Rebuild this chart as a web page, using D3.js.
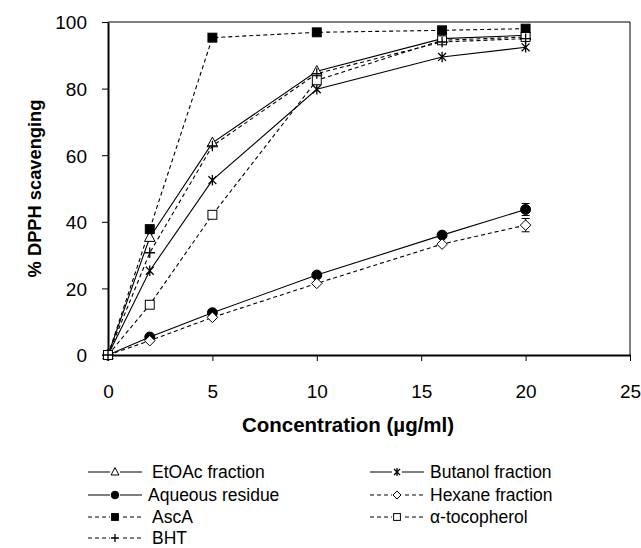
<!DOCTYPE html>
<html>
<head>
<meta charset="utf-8">
<script src="https://cdn.jsdelivr.net/npm/d3@7"></script>
<style>
  body { margin: 0; background: #fff; }
  svg { font-family: "Liberation Sans", Arial, sans-serif; }
</style>
</head>
<body>
<div id="chart"></div>
<script>
// concentrations (µg/ml)
const conc = [0, 2, 5, 10, 16, 20];

// % DPPH scavenging per sample
const etoac    = [0, 35.3, 63.7, 85.2, 95, 96];
const butanol  = [0, 25.3, 52.5, 79.8, 89.5, 92.4];
const aqueous  = [0, 5.4, 12.7, 24, 36, 43.7];
const hexane   = [0, 4.3, 11.3, 21.5, 33.3, 39];
const asca     = [0, 37.8, 95.3, 96.9, 97.5, 98];
const tocoph   = [0, 15.1, 42.1, 82.5, 94.5, 95.5];
const bht      = [0, 30.7, 62.8, 84.5, 94, 95];

// error bars (only the visible ones)
const aqueousErr = [0, 0, 0, 0, 0, 1.8];
const hexaneErr  = [0, 0, 0, 0, 0, 2];

const xTicks = [0, 5, 10, 15, 20, 25];
const yTicks = [0, 20, 40, 60, 80, 100];

const series = [
  {name: "EtOAc fraction",  values: etoac,   sym: "triangle", fill: "#fff", dash: null},
  {name: "Butanol fraction",values: butanol, sym: "asterisk", fill: "none", dash: null},
  {name: "Aqueous residue", values: aqueous, sym: "circle",   fill: "#000", dash: null, err: aqueousErr},
  {name: "Hexane fraction", values: hexane,  sym: "diamond",  fill: "#fff", dash: "4,3", err: hexaneErr},
  {name: "AscA",            values: asca,    sym: "square",   fill: "#000", dash: "4,3"},
  {name: "\u03b1-tocopherol", values: tocoph, sym: "square",  fill: "#fff", dash: "4,3"},
  {name: "BHT",             values: bht,     sym: "plus",     fill: "none", dash: "4,3"}
];

const width = 641, height = 548;
const margin = {top: 22, right: 11, bottom: 193, left: 108};

const svg = d3.select("#chart").append("svg")
  .attr("width", width)
  .attr("height", height);

const x = d3.scaleLinear().domain([0, 25]).range([margin.left, width - margin.right]);
const y = d3.scaleLinear().domain([0, 100]).range([height - margin.bottom, margin.top]);

// frame (top and right)
svg.append("path")
  .attr("d", `M${x(0)},${y(100)}H${x(25)}V${y(0)}`)
  .attr("fill", "none").attr("stroke", "#000").attr("stroke-width", 1);

// axes
const xAxis = svg.append("g")
  .attr("transform", `translate(0,${y(0)})`)
  .call(d3.axisBottom(x).tickValues(xTicks).tickSize(6).tickSizeOuter(0));
const yAxis = svg.append("g")
  .attr("transform", `translate(${x(0)},0)`)
  .call(d3.axisLeft(y).tickValues(yTicks).tickSize(6).tickSizeOuter(0));

[xAxis, yAxis].forEach(a => {
  a.attr("font-size", null).attr("font-family", null);
  a.select(".domain").attr("stroke-width", 2);
  a.selectAll(".tick line").attr("stroke-width", 1);
  a.selectAll("text").style("font-size", "19px").attr("fill", "#000");
});
xAxis.selectAll("text").attr("y", 43).attr("dy", 0);
yAxis.selectAll("text").attr("dy", "0.36em").attr("x", -21);

// axis titles
svg.append("text")
  .attr("x", 348).attr("y", 432)
  .attr("text-anchor", "middle")
  .style("font-size", "20.5px").attr("font-weight", "bold")
  .text("Concentration  (\u00b5g/ml)");

svg.append("text")
  .attr("transform", `translate(41,${(y(0) + y(100)) / 2}) rotate(-90)`)
  .attr("text-anchor", "middle")
  .style("font-size", "18.3px").attr("font-weight", "bold")
  .text("% DPPH scavenging");

// marker drawing
function marker(g, s, size) {
  const r = size / 2;
  if (s.sym === "circle") {
    g.append("circle").attr("r", r * 0.95).attr("fill", s.fill).attr("stroke", "#000");
  } else if (s.sym === "square") {
    g.append("rect").attr("x", -r * 0.85).attr("y", -r * 0.85)
      .attr("width", r * 1.7).attr("height", r * 1.7)
      .attr("fill", s.fill).attr("stroke", "#000");
  } else if (s.sym === "triangle") {
    g.append("path").attr("d", `M0,${-r * 1.1}L${r},${r * 0.75}L${-r},${r * 0.75}Z`)
      .attr("fill", s.fill).attr("stroke", "#000");
  } else if (s.sym === "diamond") {
    g.append("path").attr("d", `M0,${-r}L${r},0L0,${r}L${-r},0Z`)
      .attr("fill", s.fill).attr("stroke", "#000");
  } else if (s.sym === "plus") {
    g.append("path").attr("d", `M${-r},0H${r}M0,${-r}V${r}`)
      .attr("stroke", "#000").attr("stroke-width", 1.3);
  } else if (s.sym === "asterisk") {
    const k = r * 0.75;
    g.append("path").attr("d", `M${-k},${-k}L${k},${k}M${-k},${k}L${k},${-k}M0,${-r}V${r}`)
      .attr("stroke", "#000").attr("stroke-width", 1.3);
  }
}

const line = d3.line().x((d, i) => x(conc[i])).y(d => y(d));

// draw lines
series.forEach(s => {
  svg.append("path")
    .datum(s.values)
    .attr("d", line)
    .attr("fill", "none")
    .attr("stroke", "#000")
    .attr("stroke-width", 1.1)
    .attr("stroke-dasharray", s.dash);
});

// error bars
series.filter(s => s.err).forEach(s => {
  s.values.forEach((v, i) => {
    const e = s.err[i];
    if (!e) return;
    const cx = x(conc[i]);
    svg.append("path")
      .attr("d", `M${cx - 4},${y(v + e)}H${cx + 4}M${cx},${y(v + e)}V${y(v - e)}M${cx - 4},${y(v - e)}H${cx + 4}`)
      .attr("stroke", "#000").attr("fill", "none");
  });
});

// markers
series.forEach(s => {
  s.values.forEach((v, i) => {
    const g = svg.append("g").attr("transform", `translate(${x(conc[i])},${y(v)})`);
    marker(g, s, 10.5);
  });
});

// legend
const legendCols = [{x: 88, tx: 152}, {x: 370, tx: 430}];
const legendRows = [472, 495, 517, 538];
series.forEach((s, i) => {
  const col = legendCols[i % 2];
  const ly = legendRows[Math.floor(i / 2)];
  const g = svg.append("g").attr("transform", `translate(${col.x},${ly})`);
  g.append("line").attr("x1", 0).attr("x2", 54).attr("y1", 0).attr("y2", 0)
    .attr("stroke", "#000").attr("stroke-width", 1.2).attr("stroke-dasharray", s.dash);
  const m = g.append("g").attr("transform", "translate(27,0)");
  m.append("rect").attr("x", -5).attr("y", -5).attr("width", 10).attr("height", 10)
    .attr("fill", "#fff").attr("stroke", "none");
  marker(m, s, 8);
  g.append("text").attr("x", col.tx - col.x - (i === 2 ? 4 : 0)).attr("y", 0).attr("dy", "0.35em")
    .style("font-size", "17.5px").text(s.name);
});
</script>
</body>
</html>
